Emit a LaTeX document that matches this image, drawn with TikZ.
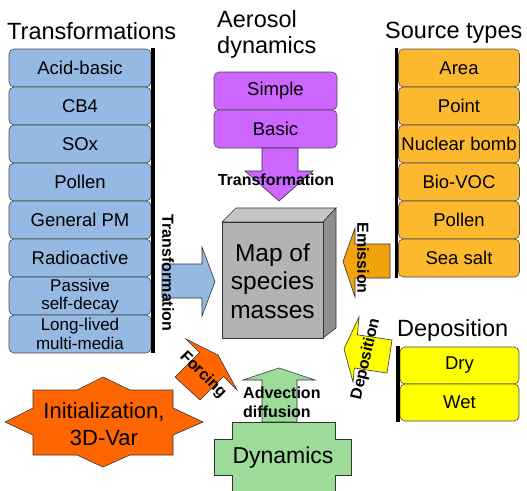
\documentclass[tikz,border=0pt]{standalone}
\usepackage{fontspec}
\setmainfont{Liberation Sans}
\definecolor{tblue}{HTML}{95B9E3}
\definecolor{aeropurple}{HTML}{CC66FF}
\definecolor{srcorange}{HTML}{FDB92D}
\definecolor{emiorange}{HTML}{F0A30A}
\definecolor{depyellow}{HTML}{FFFF00}
\definecolor{forceorange}{HTML}{FF6600}
\definecolor{dyngreen}{HTML}{9DDB98}
\definecolor{mapfront}{HTML}{B3B3B3}
\definecolor{maptop}{HTML}{C6C6C6}
\definecolor{mapside}{HTML}{8F8F8F}
\newcommand\bxfont{\fontsize{18.5}{20}\selectfont}
\newcommand\twofont{\fontsize{17}{18.5}\selectfont}
\newcommand\ttlfont{\fontsize{23.5}{26}\selectfont}
\newcommand\lblfont{\fontsize{16}{19}\selectfont\bfseries}
\begin{document}
\begin{tikzpicture}[x=1pt,y=-1pt,
  box/.style={draw=black!70, line width=0.6pt, rounded corners=5pt, inner sep=0pt, align=center, font=\bxfont},
  tbox/.style={box, fill=tblue, minimum width=142pt, minimum height=38pt},
  abox/.style={box, fill=aeropurple, minimum width=123pt, minimum height=38pt},
  sbox/.style={box, fill=srcorange, minimum width=121pt, minimum height=38pt},
  dbox/.style={box, fill=depyellow, minimum width=119pt, minimum height=37pt},
  ttl/.style={font=\ttlfont, inner sep=0pt},
  lbl/.style={font=\lblfont, inner sep=0pt, align=left},
  bar/.style={line width=3.5pt},
  blk/.style={draw=black!80, line width=0.6pt, line join=miter},
]
\useasboundingbox (0,0) rectangle (527,490);
\clip (0,0) rectangle (527,490);
\fill[white] (0,0) rectangle (527,490);

% titles
\node[ttl, anchor=base west] (ttrans) at (7,39) {Transformations};
\node[ttl, anchor=base west] (taero1) at (217,27) {Aerosol};
\node[ttl, anchor=base west] (taero2) at (217,53) {dynamics};
\node[ttl, anchor=base west] (tsrc) at (385,38) {Source types};
\node[ttl, anchor=base west] (tdep) at (397,336) {Deposition};

% transformations
\node[tbox] (acid) at (80,68) {Acid-basic};
\node[tbox] (cb4) at (80,106) {CB4};
\node[tbox] (sox) at (80,144) {SOx};
\node[tbox] (tpollen) at (80,182) {Pollen};
\node[tbox] (gpm) at (80,220) {General PM};
\node[tbox] (radio) at (80,258) {Radioactive};
\node[tbox, font=\twofont] (passive) at (80,296) {Passive\\self-decay};
\node[tbox, font=\twofont] (longlived) at (80,334) {Long-lived\\multi-media};
\draw[bar] (153,48) -- (153,353);

% aerosol dynamics
\node[abox] (simple) at (275.5,91) {Simple};
\node[abox] (basic) at (275.5,129) {Basic};

% source types
\node[sbox] (area) at (459,68) {Area};
\node[sbox] (point) at (459,106) {Point};
\node[sbox] (nuke) at (459,144) {Nuclear bomb};
\node[sbox] (biovoc) at (459,182) {Bio-VOC};
\node[sbox] (spollen) at (459,220) {Pollen};
\node[sbox] (seasalt) at (459,258) {Sea salt};
\draw[bar] (396.5,48) -- (396.5,278);

% deposition
\node[dbox] (dry) at (459.5,365.5) {Dry};
\node[dbox] (wet) at (459.5,402.5) {Wet};
\draw[bar] (398,346) -- (398,422);

% map of species masses (3D box)
\filldraw[blk, fill=maptop] (222,222) -- (236,208) -- (336,208) -- (323,222) -- cycle;
\filldraw[blk, fill=mapside] (323,222) -- (336,208) -- (336,328) -- (323,338) -- cycle;
\filldraw[blk, fill=mapfront] (222,222) rectangle (323,338);
\node[font=\fontsize{24.5}{28.5}\selectfont, align=center, inner sep=0pt] (map) at (272.5,281) {Map of\\species\\masses};

% block arrows
\filldraw[blk, fill=aeropurple] (262,148) -- (298,148) -- (298,171) -- (313,171) -- (279,201) -- (245,171) -- (262,171) -- cycle;
\filldraw[blk, fill=tblue] (162,264) -- (202,264) -- (202,247) -- (215,281.5) -- (202,316) -- (202,298) -- (162,298) -- cycle;
\filldraw[blk, fill=emiorange] (390,244) -- (355,244) -- (355,228) -- (343,261.5) -- (355,297) -- (355,278) -- (390,278) -- cycle;
\filldraw[blk, fill=depyellow] (392,340) -- (357.4,334.8) -- (359,317) -- (344,349) -- (353,382) -- (354.3,368) -- (387,373) -- cycle;
\filldraw[blk, fill=forceorange] (175,377) -- (199.5,352.5) -- (186,339) -- (218,355) -- (237,390) -- (223.5,376.5) -- (200,400) -- cycle;
\filldraw[blk, fill=dyngreen] (262,422) -- (262,380) -- (243,380) -- (279,368) -- (315,380) -- (297,380) -- (297,422) -- cycle;

% arrow labels
\node[lbl] (ltrans) at (276,180) {Transformation};
\node[lbl, rotate=-90] (ltransv) at (168,273) {Transformation};
\node[lbl, rotate=-90] (lemis) at (363,258) {Emission};
\node[lbl, rotate=77] (ldep) at (366,359) {Deposition};
\node[lbl, rotate=-45] (lforce) at (203,375) {Forcing};
\node[lbl, anchor=west] (ladv) at (243,402.5) {Advection\\diffusion};

% initialization star
\filldraw[blk, fill=forceorange] (33,390) -- (77,390) -- (103,377) -- (130,390) -- (173,390) -- (173,408) -- (203,422) -- (173,435) -- (173,455) -- (130,455) -- (103,467) -- (77,455) -- (33,455) -- (33,435) -- (5,422) -- (33,408) -- cycle;
\node[font=\fontsize{22}{27}\selectfont, align=center, inner sep=0pt] (init) at (104,424) {Initialization,\\3D-Var};

% dynamics cross
\filldraw[blk, fill=dyngreen] (232,422) -- (335,422) -- (335,439) -- (351,439) -- (351,475) -- (335,475) -- (335,496) -- (232,496) -- (232,475) -- (214,475) -- (214,439) -- (232,439) -- cycle;
\node[font=\fontsize{23}{26}\selectfont, inner sep=0pt] (dyn) at (283,458) {Dynamics};
\end{tikzpicture}
\end{document}
